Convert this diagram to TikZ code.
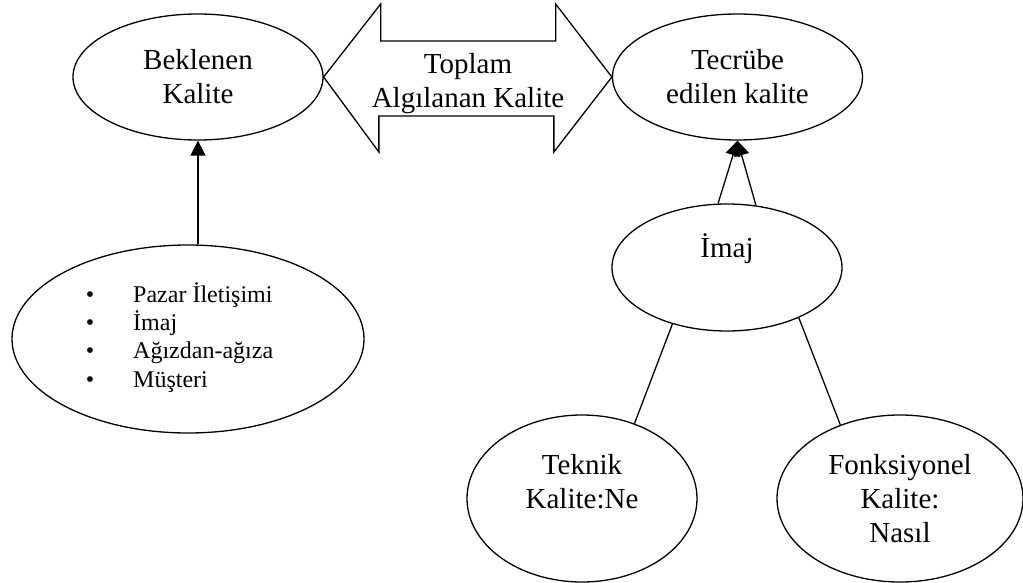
\documentclass[tikz,border=0pt]{standalone}
\usepackage{fontspec}
\setmainfont{Liberation Serif}
\usetikzlibrary{arrows.meta,shapes.geometric,calc}
\tikzset{
  oval/.style={draw,ellipse,line width=0.65pt,align=center,inner sep=0pt,font=\fontsize{14.5}{17}\selectfont},
  arr/.style={-{Triangle[length=7.5pt,width=7.5pt]},line width=0.65pt},
  link/.style={line width=0.65pt},
  bigarr/.style={draw,line width=0.65pt,line join=miter},
  lbl/.style={align=center,inner sep=0pt,font=\fontsize{14.5}{17}\selectfont}
}

\begin{document}
\begin{tikzpicture}[x=0.5pt,y=-0.5pt]
\useasboundingbox (0,0) rectangle (1023,583);
% upper row
\node[oval,minimum width=125pt,minimum height=63pt] (bek) at (198,77) {Beklenen\\Kalite};
\node[oval,minimum width=125pt,minimum height=63pt] (tec) at (737.5,77) {Tecrübe\\edilen kalite};
% double arrow between them
\draw[bigarr] (bek.east) -- ++(57,-73) -- ++(0,37) -- ++(175,0) -- ++(0,-37) -- (tec.west)
  -- ++(-58,75) -- ++(0,-36) -- ++(-175,0) -- ++(0,36) -- cycle;
\node[lbl] (top) at (468,84) {Toplam\\Algılanan Kalite};
% left side
\node[oval,minimum width=176pt,minimum height=94pt,font=\fontsize{12}{14.2}\selectfont] (src) at (188,339)
  {\begin{tabular}{@{}l@{\hspace{19.5pt}}l@{\hspace{8.5pt}}}
   \textbullet & Pazar İletişimi\\
   \textbullet & İmaj\\
   \textbullet & Ağızdan-ağıza\\
   \textbullet & Müşteri
   \end{tabular}};
\draw[arr] (bek.south |- src.north) -- (bek.south);
% right side
\node[oval,minimum width=115pt,minimum height=63.5pt] (ima) at (727,267.5) {İmaj\\\strut};
\node[oval,minimum width=115pt,minimum height=83.5pt] (tek) at (582,498.5) {Teknik\\Kalite:Ne\\\mbox{}};
\node[oval,minimum width=123pt,minimum height=83.5pt] (fon) at (900,498.5) {Fonksiyonel\\Kalite:\\Nasıl};
\draw[arr] (ima.98) -- (tec.south);
\draw[arr] (ima.65) -- (tec.south);
\draw[link] (ima.226) -- (tek.55);
\draw[link] (ima.325) -- (fon.129);
\end{tikzpicture}
\end{document}
